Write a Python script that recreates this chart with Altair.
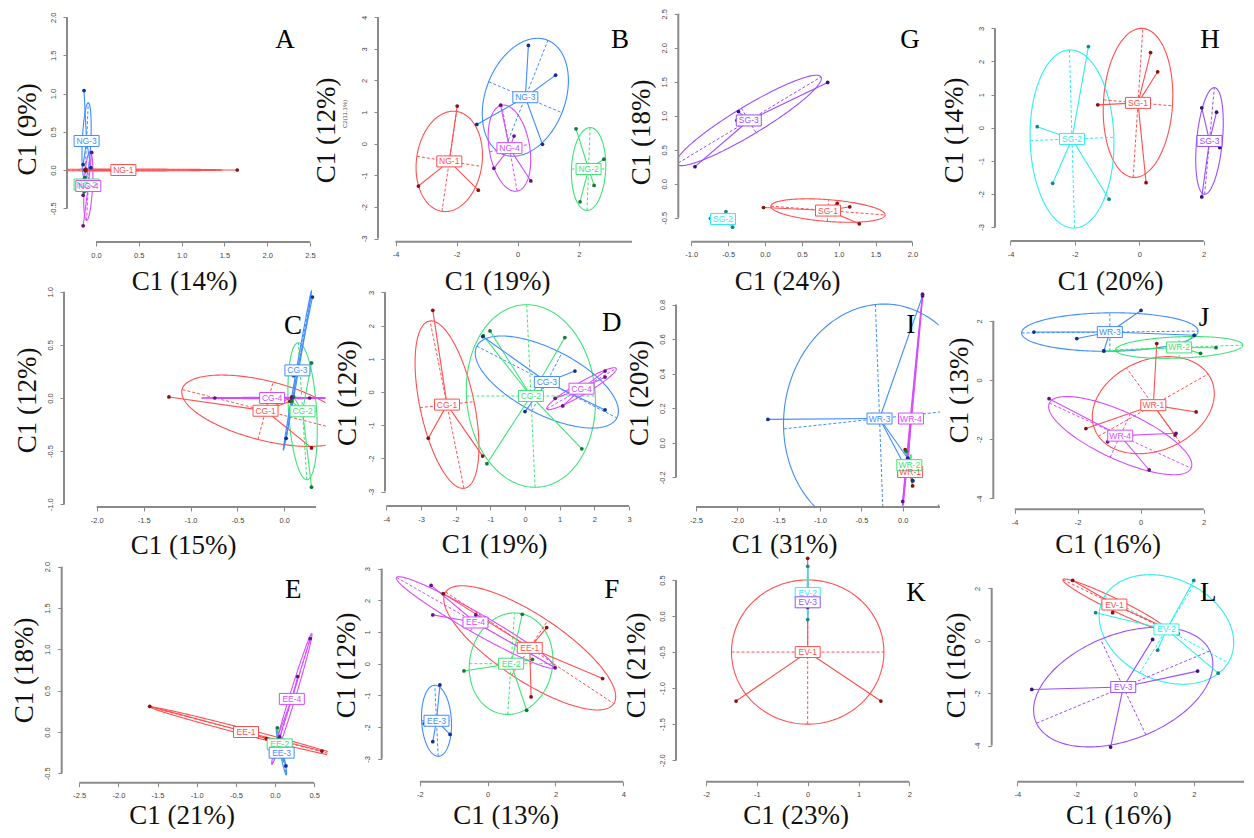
import numpy as np
import pandas as pd
import altair as alt

# ================= DATA =================
# groups: name, centre x, centre y, half-axis-1 (x, y), half-axis-2 (x, y)
# ---- Panel A ----
A_XTICKS = [0.0, 0.5, 1.0, 1.5, 2.0, 2.5]
A_YTICKS = [-0.5, 0.0, 0.5, 1.0, 1.5, 2.0]
A_TITLES = ("C1 (14%)", "C1 (9%)")
A_GROUPS = [
    ("NG-1", 0.32, 0.00, 1.15, 0.00, 0.00, 0.012),
    ("NG-2", -0.11, -0.19, 0.01, 0.10, 0.025, 0.00),
    ("NG-3", -0.11, 0.38, 0.02, 0.50, 0.05, 0.00),
    ("NG-4", -0.09, -0.21, 0.02, 0.45, 0.05, 0.00),
]
A_POINTS = [
    ("NG-1", 1.65, 0.00), ("NG-1", -0.13, 0.00), ("NG-1", -0.12, 0.01), ("NG-1", -0.12, -0.01),
    ("NG-2", -0.14, -0.28), ("NG-2", -0.13, -0.10),
    ("NG-3", -0.14, 1.04), ("NG-3", -0.15, 0.07), ("NG-3", -0.06, 0.03),
    ("NG-4", -0.15, -0.73), ("NG-4", -0.05, 0.23), ("NG-4", -0.14, -0.13), ("NG-4", -0.15, -0.33),
]
# ---- Panel B ----
B_XTICKS = [-4, -2, 0, 2]
B_YTICKS = [-3, -2, -1, 0, 1, 2, 3, 4]
B_TITLES = ("C1 (19%)", "C1 (12%)")
B_GROUPS = [
    ("NG-1", -2.24, -0.56, 0.24, 1.58, 1.06, -0.16),
    ("NG-2", 2.32, -0.80, 0.05, 1.31, 0.56, 0.00),
    ("NG-3", 0.25, 1.47, 0.74, 1.80, 1.20, -0.49),
    ("NG-4", -0.27, -0.14, -0.25, 1.36, 0.65, 0.12),
]
B_POINTS = [
    ("NG-1", -1.98, 1.19), ("NG-1", -3.25, -1.34), ("NG-1", -1.29, -1.47),
    ("NG-2", 1.91, 0.47), ("NG-2", 2.82, -0.49), ("NG-2", 2.50, -1.32), ("NG-2", 2.04, -1.84),
    ("NG-3", 0.35, 3.11), ("NG-3", 1.24, 2.17), ("NG-3", -1.34, 0.61), ("NG-3", 0.81, -0.02),
    ("NG-4", -0.56, 1.22), ("NG-4", -0.12, 0.24), ("NG-4", -0.78, -0.78), ("NG-4", 0.43, -1.18),
]
# ---- Panel G ----
G_XTICKS = [-1.0, -0.5, 0.0, 0.5, 1.0, 1.5, 2.0]
G_YTICKS = [-0.5, 0.0, 0.5, 1.0, 1.5, 2.0, 2.5]
G_TITLES = ("C1 (24%)", "C1 (18%)")
G_GROUPS = [
    ("SG-1", 0.855, -0.395, 0.775, -0.065, 0.01, 0.16),
    ("SG-2", -0.57, -0.52, 0.12, 0.05, 0.02, -0.05),
    ("SG-3", -0.22, 0.93, 0.98, 0.64, 0.10, -0.18),
]
G_POINTS = [
    ("SG-1", -0.02, -0.35), ("SG-1", 0.98, -0.29), ("SG-1", 1.15, -0.34), ("SG-1", 1.28, -0.59),
    ("SG-2", -0.53, -0.41), ("SG-2", -0.44, -0.64), ("SG-2", -0.74, -0.51),
    ("SG-3", 0.85, 1.49), ("SG-3", -0.36, 1.06), ("SG-3", -0.95, 0.25), ("SG-3", -0.38, 0.93),
]
# ---- Panel H ----
H_XTICKS = [-4, -2, 0, 2]
H_YTICKS = [-3, -2, -1, 0, 1, 2, 3]
H_TITLES = ("C1 (20%)", "C1 (14%)")
H_GROUPS = [
    ("SG-1", -0.04, 0.75, 0.15, 2.25, 1.07, -0.09),
    ("SG-2", -2.09, -0.34, -0.08, 2.69, 1.30, 0.05),
    ("SG-3", 2.18, -0.40, 0.15, 1.61, 0.40, 0.00),
]
H_POINTS = [
    ("SG-1", 0.35, 2.27), ("SG-1", 0.57, 1.69), ("SG-1", -1.29, 0.69), ("SG-1", 0.21, -1.66),
    ("SG-2", -1.58, 2.45), ("SG-2", -3.17, 0.03), ("SG-2", -2.69, -1.68), ("SG-2", -0.94, -2.16),
    ("SG-3", 1.94, 0.60), ("SG-3", 2.40, 0.47), ("SG-3", 1.94, -2.09), ("SG-3", 2.50, -0.60),
]
# ---- Panel C ----
C_XTICKS = [-2.0, -1.5, -1.0, -0.5, 0.0]
C_YTICKS = [-1.0, -0.5, 0.0, 0.5, 1.0]
C_TITLES = ("C1 (15%)", "C1 (12%)")
C_GROUPS = [
    ("CG-1", -0.20, -0.12, -0.89, 0.20, 0.08, 0.27),
    ("CG-2", 0.195, -0.125, -0.045, 0.645, 0.15, 0.00),
    ("CG-3", 0.14, 0.26, 0.15, 0.75, 0.012, -0.002),
    ("CG-4", -0.13, 0.00, 0.75, 0.00, 0.00, 0.006),
]
C_POINTS = [
    ("CG-1", -1.23, 0.01), ("CG-1", 0.29, -0.47), ("CG-1", 0.08, 0.01), ("CG-1", 0.06, -0.03),
    ("CG-2", 0.29, 0.33), ("CG-2", 0.29, -0.84), ("CG-2", 0.10, 0.01), ("CG-2", 0.08, -0.03),
    ("CG-3", 0.02, -0.38), ("CG-3", 0.30, 0.95), ("CG-3", 0.10, 0.21),
    ("CG-4", -0.74, 0.00), ("CG-4", 0.08, 0.00), ("CG-4", 0.27, 0.00),
]
# ---- Panel D ----
D_XTICKS = [-4, -3, -2, -1, 0, 1, 2, 3]
D_YTICKS = [-3, -2, -1, 0, 1, 2, 3]
D_TITLES = ("C1 (19%)", "C1 (12%)")
D_GROUPS = [
    ("CG-1", -2.25, -0.38, -0.49, 2.52, 0.78, 0.09),
    ("CG-2", 0.17, -0.12, -0.12, 2.75, 1.86, 0.00),
    ("CG-3", 0.63, 0.30, 2.02, -1.08, 0.43, 0.87),
    ("CG-4", 1.63, 0.10, 1.00, 0.61, 0.09, -0.16),
]
D_POINTS = [
    ("CG-1", -2.66, 2.46), ("CG-1", -2.79, -1.39), ("CG-1", -1.22, -1.93),
    ("CG-2", -1.20, 1.69), ("CG-2", -1.01, 1.84), ("CG-2", 1.15, 1.64), ("CG-2", 1.64, -1.71),
    ("CG-2", -1.10, -2.16),
    ("CG-3", -1.22, 1.67), ("CG-3", 1.44, 0.63), ("CG-3", 2.31, -0.54), ("CG-3", 0.00, -0.59),
    ("CG-4", 2.31, 0.63), ("CG-4", 2.31, 0.45), ("CG-4", 0.87, -0.19), ("CG-4", 1.09, -0.42),
]
# ---- Panel I ----
I_XTICKS = [-2.5, -2.0, -1.5, -1.0, -0.5, 0.0]
I_YTICKS = [-0.2, 0.0, 0.2, 0.4, 0.6, 0.8]
I_TITLES = ("C1 (31%)", "C1 (20%)")
I_GROUPS = [
    ("WR-1", 0.09, -0.17, 0.02, -0.05, 0.01, 0.00),
    ("WR-2", 0.08, -0.13, 0.02, 0.06, 0.012, 0.00),
    ("WR-3", -0.28, 0.14, -0.05, 0.66, 1.16, 0.06),
    ("WR-4", 0.10, 0.14, 0.14, 0.71, 0.008, -0.001),
]
I_POINTS = [
    ("WR-1", 0.12, -0.22), ("WR-1", 0.12, -0.25), ("WR-1", 0.03, -0.04),
    ("WR-2", 0.08, -0.12), ("WR-2", 0.12, -0.22), ("WR-2", 0.04, -0.05),
    ("WR-3", -1.63, 0.135), ("WR-3", 0.24, 0.85), ("WR-3", 0.06, -0.09), ("WR-3", 0.12, -0.22),
    ("WR-4", 0.24, 0.86), ("WR-4", 0.07, -0.10), ("WR-4", 0.00, -0.34),
]
# ---- Panel J ----
J_XTICKS = [-4, -2, 0, 2]
J_YTICKS = [-4, -2, 0, 2]
J_TITLES = ("C1 (16%)", "C1 (13%)")
J_GROUPS = [
    ("WR-1", 0.40, -0.85, 1.74, 1.05, -0.85, 1.26),
    ("WR-2", 1.22, 1.10, 2.02, 0.08, 0.00, 0.36),
    ("WR-3", -0.98, 1.62, 2.80, 0.03, 0.00, 0.65),
    ("WR-4", -0.65, -1.88, 2.25, -1.10, 0.32, 0.73),
]
J_POINTS = [
    ("WR-1", 0.51, 1.23), ("WR-1", 1.76, -1.08), ("WR-1", 1.09, -1.86), ("WR-1", -1.74, -1.64),
    ("WR-2", -1.17, 0.98), ("WR-2", 1.70, 1.51), ("WR-2", 2.39, 1.09), ("WR-2", 1.90, 0.90),
    ("WR-3", -3.39, 1.62), ("WR-3", -2.03, 1.40), ("WR-3", 0.01, 2.35), ("WR-3", -1.17, 0.98),
    ("WR-3", 1.70, 1.51),
    ("WR-4", -2.91, -0.63), ("WR-4", -1.05, -2.09), ("WR-4", 1.12, -1.80), ("WR-4", 0.27, -3.04),
]
# ---- Panel E ----
E_XTICKS = [-2.5, -2.0, -1.5, -1.0, -0.5, 0.0, 0.5]
E_YTICKS = [-0.5, 0.0, 0.5, 1.0, 1.5, 2.0]
E_TITLES = ("C1 (21%)", "C1 (18%)")
E_GROUPS = [
    ("EE-1", -0.37, 0.00, 1.22, -0.30, -0.009, -0.035),
    ("EE-2", 0.06, -0.15, 0.04, -0.20, 0.02, 0.00),
    ("EE-3", 0.085, -0.25, 0.06, -0.27, 0.02, 0.00),
    ("EE-4", 0.215, 0.40, 0.255, 0.79, 0.037, -0.011),
]
E_POINTS = [
    ("EE-1", -1.60, 0.31), ("EE-1", 0.60, -0.23), ("EE-1", -0.11, -0.08),
    ("EE-2", 0.03, 0.05), ("EE-2", 0.10, -0.30), ("EE-2", 0.05, -0.15),
    ("EE-3", 0.14, -0.41), ("EE-3", 0.05, -0.08), ("EE-3", 0.07, -0.26),
    ("EE-4", 0.45, 1.13), ("EE-4", 0.29, 0.67), ("EE-4", 0.06, -0.06), ("EE-4", 0.00, -0.14),
]
# ---- Panel F ----
F_XTICKS = [-2, 0, 2, 4]
F_YTICKS = [-3, -2, -1, 0, 1, 2, 3]
F_TITLES = ("C1 (13%)", "C1 (12%)")
F_GROUPS = [
    ("EE-1", 1.24, 0.50, 2.48, -1.76, 0.53, 0.86),
    ("EE-2", 0.69, 0.00, 0.10, 1.60, 1.23, 0.00),
    ("EE-3", -1.51, -1.80, -0.05, 1.12, 0.44, 0.00),
    ("EE-4", -0.36, 1.30, 2.33, -1.42, 0.15, 0.27),
]
F_POINTS = [
    ("EE-1", -1.31, 2.21), ("EE-1", 1.74, 1.14), ("EE-1", 3.39, -0.47), ("EE-1", 1.28, -1.05),
    ("EE-2", 1.02, 1.56), ("EE-2", -0.70, -0.23), ("EE-2", 1.32, 0.14), ("EE-2", 1.15, -1.47),
    ("EE-3", -1.41, -0.67), ("EE-3", -1.87, -1.89), ("EE-3", -1.11, -2.23), ("EE-3", -1.62, -2.46),
    ("EE-4", -1.67, 2.47), ("EE-4", -1.62, 1.54), ("EE-4", 1.99, -0.13), ("EE-4", -0.35, 1.54),
]
# ---- Panel K ----
K_XTICKS = [-2, -1, 0, 1, 2]
K_YTICKS = [-2.0, -1.5, -1.0, -0.5, 0.0, 0.5]
K_TITLES = ("C1 (23%)", "C1 (21%)")
K_GROUPS = [
    ("EV-1", 0.00, -0.50, 1.50, 0.00, 0.00, 1.00),
    ("EV-2", 0.00, 0.32, 0.00, 0.37, 0.01, 0.00),
    ("EV-3", 0.00, 0.19, 0.00, 0.08, 0.01, 0.00),
]
K_POINTS = [
    ("EV-1", -1.41, -1.18), ("EV-1", 1.44, -1.18), ("EV-1", 0.00, 0.80),
    ("EV-2", 0.00, 0.69), ("EV-2", 0.00, -0.05), ("EV-2", 0.00, 0.32),
    ("EV-3", 0.00, 0.25), ("EV-3", 0.00, 0.12),
]
# ---- Panel L ----
L_XTICKS = [-4, -2, 0, 2]
L_YTICKS = [-4, -2, 0, 2]
L_TITLES = ("C1 (16%)", "C1 (16%)")
L_GROUPS = [
    ("EV-1", -0.70, 1.38, 1.75, -0.95, 0.09, 0.21),
    ("EV-2", 1.07, 0.43, 0.91, 1.66, 2.10, -1.27),
    ("EV-3", -0.40, -1.77, 2.95, 1.38, -0.77, 1.82),
]
L_POINTS = [
    ("EV-1", -2.12, 2.30), ("EV-1", -1.00, 1.54), ("EV-1", -0.76, 1.07), ("EV-1", 1.47, 0.27),
    ("EV-2", -1.34, 1.07), ("EV-2", 2.00, 2.30), ("EV-2", 0.77, -0.36), ("EV-2", 2.83, -1.24),
    ("EV-3", 0.60, 0.05), ("EV-3", -3.51, -1.86), ("EV-3", -0.83, -4.06), ("EV-3", 2.13, -1.16),
]

# ================= STYLE / LAYOUT =================
COLB = [8, 316, 632, 940, 1244]   # cell edges (page px)
ROWB = [8, 268, 548, 828]
PALETTE = {
    "red": ("#FF4F4F", "#8B1010"),
    "green": ("#3FE377", "#137A33"),
    "blue": ("#3F8CFF", "#10308F"),
    "magenta": ("#D54CFF", "#66108A"),
    "purple": ("#9C4CFF", "#3A107A"),
    "cyan": ("#2EEEEE", "#108A8A"),
}
SCHEME4 = {"1": "red", "2": "green", "3": "blue", "4": "magenta"}
SCHEME3 = {"1": "red", "2": "cyan", "3": "purple"}

SERIF = "Liberation Serif"
SANS = "Liberation Sans"

LAYOUT = {
    "A": dict(col=0, row=0, X0=96, sx=85.6, Y0=169, sy=76.4, xline=241, yline=67,
              xtc=184, xtb=288, ytb=35, ytc=128, lx=285, ly=47, clipR=316, fx=".1f", fy=".1f"),
    "B": dict(col=1, row=0, X0=517.7, sx=30.55, Y0=142.7, sy=31.6, xline=240.7, yline=378,
              xend=632, xtc=497, xtb=288, ytb=334, ytc=129, lx=620, ly=47, clipR=632, fx="d", fy="d"),
    "G": dict(col=2, row=0, X0=765, sx=73.7, Y0=182.7, sy=68, xline=240.7, yline=678.3,
              xtc=787, xtb=288, ytb=649.3, ytc=131, lx=910, ly=47, clipR=940, fx=".1f", fy=".1f"),
    "H": dict(col=3, row=0, X0=1139.3, sx=32.2, Y0=126.7, sy=33.1, xline=240, yline=995,
              xtc=1110, xtb=288, ytb=962.7, ytc=129, lx=1210, ly=47, clipR=1244, fx="d", fy="d"),
    "C": dict(col=0, row=1, X0=284.3, sx=93.8, Y0=397, sy=106.2, xline=506, yline=64,
              xend=316, xtc=183, xtb=552, ytb=35, ytc=399, lx=293, ly=333, clipR=326, fx=".1f", fy=".1f"),
    "D": dict(col=1, row=1, X0=525, sx=34.66, Y0=391, sy=33.2, xline=505, yline=385,
              xtc=494, xtb=551, ytb=355.7, ytc=391.7, lx=611.7, ly=330, clipR=632, fx="d", fy="d"),
    "I": dict(col=2, row=1, X0=902.7, sx=82.7, Y0=441.7, sy=172.7, xline=506, yline=676,
              xend=940, xtc=784, xtb=551.7, ytb=647.7, ytc=391.7, lx=910.7, ly=331.7, clipR=940,
              fx=".1f", fy=".1f"),
    "J": dict(col=3, row=1, X0=1140.7, sx=31.5, Y0=379, sy=29.6, xline=508.3, yline=993.3,
              xtc=1107.5, xtb=551.7, ytb=967.7, ytc=389, lx=1204, ly=325, clipR=1244, fx="d", fy="d"),
    "E": dict(col=0, row=2, X0=275, sx=78.3, Y0=731, sy=82.7, xline=781.7, yline=61.7,
              xtc=181.7, xtb=822, ytb=32.7, ytc=669, lx=293.3, ly=596.7, clipR=328, fx=".1f", fy=".1f"),
    "F": dict(col=1, row=2, X0=487.7, sx=33.9, Y0=662.7, sy=31.7, xline=780.7, yline=381.7,
              xtc=505.7, xtb=822, ytb=354.3, ytc=664, lx=611.7, ly=596.7, clipR=632, fx="d", fy="d"),
    "K": dict(col=2, row=2, X0=807.7, sx=50.8, Y0=615, sy=72.1, xline=780.7, yline=676,
              xtc=795.7, xtb=822, ytb=644.3, ytc=664, lx=916, ly=600, clipR=940, fx="d", fy=".1f"),
    "L": dict(col=3, row=2, X0=1135, sx=29.4, Y0=639.7, sy=26.2, xline=780.7, yline=991.7,
              xend=1244, xtc=1118.3, xtb=822, ytb=964.3, ytc=664, lx=1208.3, ly=600, clipR=1244,
              fx="d", fy="d"),
}

PANELS = [
    ("A", A_GROUPS, A_POINTS, A_XTICKS, A_YTICKS, A_TITLES),
    ("B", B_GROUPS, B_POINTS, B_XTICKS, B_YTICKS, B_TITLES),
    ("G", G_GROUPS, G_POINTS, G_XTICKS, G_YTICKS, G_TITLES),
    ("H", H_GROUPS, H_POINTS, H_XTICKS, H_YTICKS, H_TITLES),
    ("C", C_GROUPS, C_POINTS, C_XTICKS, C_YTICKS, C_TITLES),
    ("D", D_GROUPS, D_POINTS, D_XTICKS, D_YTICKS, D_TITLES),
    ("I", I_GROUPS, I_POINTS, I_XTICKS, I_YTICKS, I_TITLES),
    ("J", J_GROUPS, J_POINTS, J_XTICKS, J_YTICKS, J_TITLES),
    ("E", E_GROUPS, E_POINTS, E_XTICKS, E_YTICKS, E_TITLES),
    ("F", F_GROUPS, F_POINTS, F_XTICKS, F_YTICKS, F_TITLES),
    ("K", K_GROUPS, K_POINTS, K_XTICKS, K_YTICKS, K_TITLES),
    ("L", L_GROUPS, L_POINTS, L_XTICKS, L_YTICKS, L_TITLES),
]


def colours(name):
    pre, num = name.split("-")
    scheme = SCHEME3 if pre in ("SG", "EV") else SCHEME4
    return PALETTE[scheme[num]]


def clip_seg(x1, y1, x2, y2, box):
    xmin, xmax, ymin, ymax = box
    dx, dy = x2 - x1, y2 - y1
    t0, t1 = 0.0, 1.0
    for p, q in ((-dx, x1 - xmin), (dx, xmax - x1), (-dy, y1 - ymin), (dy, ymax - y1)):
        if p == 0:
            if q < 0:
                return None
        else:
            t = q / p
            if p < 0:
                t0 = max(t0, t)
            else:
                t1 = min(t1, t)
    if t0 > t1:
        return None
    return (x1 + t0 * dx, y1 + t0 * dy, x1 + t1 * dx, y1 + t1 * dy)


def ellipse_runs(cx, cy, ux, uy, vx, vy, box, n=240):
    t = np.linspace(0, 2 * np.pi, n, endpoint=False)
    x = cx + np.cos(t) * ux + np.sin(t) * vx
    y = cy + np.cos(t) * uy + np.sin(t) * vy
    ins = (x >= box[0]) & (x <= box[1]) & (y >= box[2]) & (y <= box[3])
    if ins.all():
        return [(np.append(x, x[0]), np.append(y, y[0]))]
    k = int(np.argmin(ins))
    runs, cur = [], []
    for i in list(range(k, n)) + list(range(0, k)):
        if ins[i]:
            cur.append(i)
        else:
            if len(cur) > 1:
                runs.append((x[cur], y[cur]))
            cur = []
    if len(cur) > 1:
        runs.append((x[cur], y[cur]))
    return runs


def label_expr(fmt):
    return "replace(format(datum.value, '%s'), '\u2212', '-')" % fmt


def build_panel(key, groups, points, xticks, yticks, titles):
    L = LAYOUT[key]
    x0c, x1c = COLB[L["col"]], COLB[L["col"] + 1]
    y0c, y1c = ROWB[L["row"]], ROWB[L["row"] + 1]
    W, H = x1c - x0c, y1c - y0c
    X0, sx, Y0, sy = L["X0"], L["sx"], L["Y0"], L["sy"]
    px2x = lambda p: (p - X0) / sx
    px2y = lambda p: (Y0 - p) / sy

    xs = alt.Scale(domain=[px2x(x0c), px2x(x1c)], nice=False, zero=False)
    ys = alt.Scale(domain=[px2y(y1c), px2y(y0c)], nice=False, zero=False)
    box = (px2x(L["yline"]), px2x(L["clipR"]), px2y(L["xline"]), px2y(y0c))

    xaxis = alt.Axis(
        values=xticks, labelExpr=label_expr(L["fx"]), offset=-(y1c - L["xline"]),
        domain=False, grid=False, tickSize=4, tickWidth=1, tickColor="#888888",
        labelFont=SANS, labelFontSize=7.5, labelColor="#444444", labelPadding=5,
        labelFlush=False, labelOverlap=False,
        titleFont=SERIF, titleFontSize=27, titleFontWeight="normal", titleColor="#111111",
        titleX=L["xtc"] - x0c, titleY=L["xtb"] - L["xline"], titleAlign="center",
        titleBaseline="alphabetic", titleAngle=0)
    yaxis = alt.Axis(
        values=yticks, labelExpr=label_expr(L["fy"]), offset=-(L["yline"] - x0c),
        domain=False, grid=False, tickSize=4, tickWidth=1, tickColor="#888888",
        labelFont=SANS, labelFontSize=7.5, labelColor="#444444", labelPadding=6,
        labelAngle=270, labelAlign="center", labelBaseline="bottom",
        labelFlush=False, labelOverlap=False,
        titleFont=SERIF, titleFontSize=27, titleFontWeight="normal", titleColor="#111111",
        titleX=L["ytb"] - L["yline"], titleY=L["ytc"] - y0c, titleAlign="center",
        titleBaseline="alphabetic", titleAngle=270)
    X = alt.X("x:Q", scale=xs, axis=xaxis, title=titles[0])
    Y = alt.Y("y:Q", scale=ys, axis=yaxis, title=titles[1])
    COL = alt.Color("col:N", scale=None)

    ell, dash, spider, pts, labs = [], [], [], [], []
    pts_by = {}
    for g, x, y in points:
        pts_by.setdefault(g, []).append((x, y))
    for g, cx, cy, ux, uy, vx, vy in groups:
        light, dark = colours(g)
        for j, (ex, ey) in enumerate(ellipse_runs(cx, cy, ux, uy, vx, vy, box)):
            for i, (a, b) in enumerate(zip(ex, ey)):
                ell.append(dict(seg=f"{g}#{j}", i=i, x=a, y=b, col=light))
        for (ax, ay) in ((ux, uy), (vx, vy)):
            s = clip_seg(cx - ax, cy - ay, cx + ax, cy + ay, box)
            if s:
                dash.append(dict(x=s[0], y=s[1], x2=s[2], y2=s[3], col=light))
        for (px_, py_) in pts_by.get(g, []):
            s = clip_seg(cx, cy, px_, py_, box)
            if s:
                spider.append(dict(x=s[0], y=s[1], x2=s[2], y2=s[3], col=light))
            pts.append(dict(x=px_, y=py_, col=dark))
        labs.append(dict(x=cx, y=cy, name=g, col=light))

    layers = []
    layers.append(alt.Chart(pd.DataFrame(ell)).mark_line(strokeWidth=1.1).encode(
        x=X, y=Y, detail="seg:N", order="i:Q", color=COL))
    layers.append(alt.Chart(pd.DataFrame(dash)).mark_rule(strokeWidth=1, strokeDash=[3, 2]).encode(
        x=X, y=Y, x2="x2:Q", y2="y2:Q", color=COL))
    layers.append(alt.Chart(pd.DataFrame(spider)).mark_rule(strokeWidth=1.1).encode(
        x=X, y=Y, x2="x2:Q", y2="y2:Q", color=COL))
    layers.append(alt.Chart(pd.DataFrame(pts)).mark_circle(size=14, opacity=1).encode(
        x=X, y=Y, color=COL))
    layers.append(alt.Chart(pd.DataFrame(labs)).mark_point(
        shape="M-1,-0.44L1,-0.44L1,0.44L-1,0.44Z", size=625, fill="white", fillOpacity=1,
        strokeWidth=1, opacity=1).encode(x=X, y=Y, stroke=alt.Stroke("col:N", scale=None)))
    layers.append(alt.Chart(pd.DataFrame(labs)).mark_text(
        font=SANS, fontSize=8.5, align="center", baseline="middle").encode(
        x=X, y=Y, text="name:N", color=COL))

    # axis lines (from first tick to last tick, R style)
    xend = px2x(L["xend"]) if "xend" in L else xticks[-1]
    layers.append(alt.Chart(pd.DataFrame({"x": [xticks[0]], "x2": [xend]})).mark_rule(
        strokeWidth=2, color="#8a8a8a").encode(x=X, x2="x2:Q", y=alt.value(L["xline"] - y0c)))
    layers.append(alt.Chart(pd.DataFrame({"y": [yticks[0]], "y2": [yticks[-1]]})).mark_rule(
        strokeWidth=2, color="#8a8a8a").encode(y=Y, y2="y2:Q", x=alt.value(L["yline"] - x0c)))

    # panel letter
    layers.append(alt.Chart(pd.DataFrame({"t": [key]})).mark_text(
        font=SERIF, fontSize=27, align="center", baseline="alphabetic", color="black").encode(
        x=alt.value(L["lx"] - x0c), y=alt.value(L["ly"] - y0c), text="t:N"))
    if key == "B":
        layers.append(alt.Chart(pd.DataFrame({"t": ["C2(11.1%)"]})).mark_text(
            font=SANS, fontSize=6, angle=270, align="center", baseline="middle",
            color="#555555").encode(x=alt.value(345 - x0c), y=alt.value(113 - y0c), text="t:N"))

    return alt.layer(*layers).properties(width=W, height=H)


charts = [build_panel(*p) for p in PANELS]
chart = alt.concat(*charts, columns=4, spacing=0, bounds="flush").resolve_scale(
    x="independent", y="independent").properties(padding=0, background="white").configure_view(
    stroke=None)

chart.save("out.html", embed_options={"renderer": "svg", "actions": False})
